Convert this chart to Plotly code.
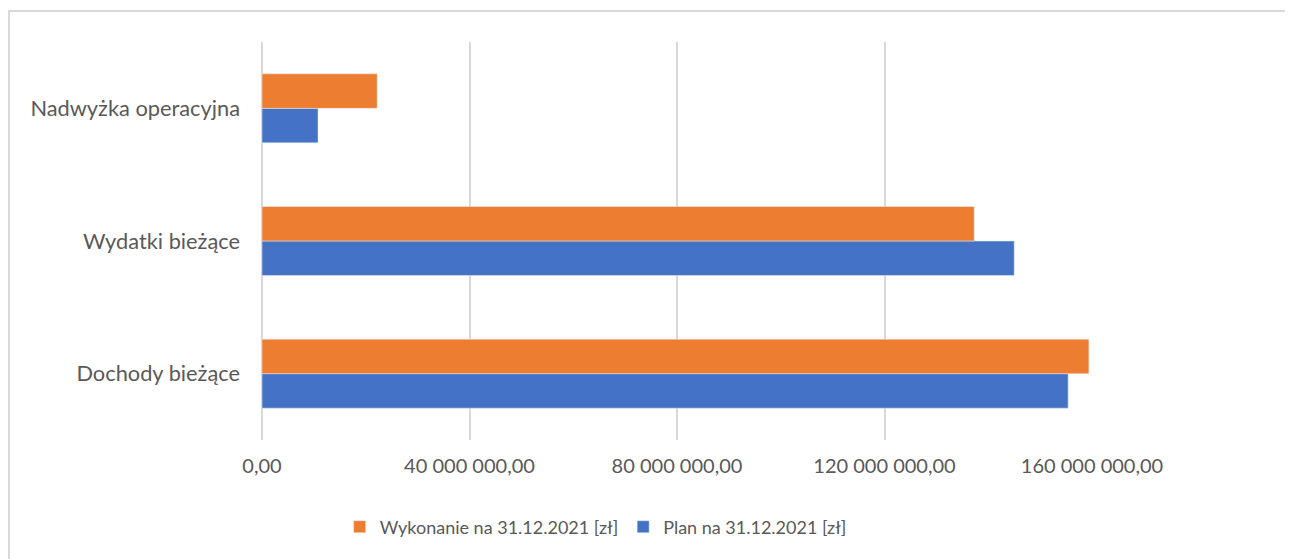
import plotly.graph_objects as go

# dane
categories = ["Dochody bieżące", "Wydatki bieżące", "Nadwyżka operacyjna"]
plan = [155_400_000, 145_000_000, 10_800_000]
wykonanie = [159_400_000, 137_300_000, 22_200_000]
tick_vals = [0, 40_000_000, 80_000_000, 120_000_000, 160_000_000]
tick_text = ["0,00", "40 000 000,00", "80 000 000,00", "120 000 000,00", "160 000 000,00"]

ORANGE = "#ED7D31"
BLUE = "#4472C4"
GREY_TXT = "#595959"
GRID = "#D9D9D9"
FONT = "Lato, Noto Sans, sans-serif"

fig = go.Figure()
fig.add_trace(go.Bar(
    y=categories, x=plan, orientation="h",
    name="Plan na 31.12.2021 [zł]", marker_color=BLUE,
))
fig.add_trace(go.Bar(
    y=categories, x=wykonanie, orientation="h",
    name="Wykonanie na 31.12.2021 [zł]", marker_color=ORANGE,
))

# strona ma 8px marginesu body, więc figura jest o 8px mniejsza
fig.update_layout(
    barmode="group",
    bargap=0.48,
    bargroupgap=0,
    width=1285, height=551,
    margin=dict(l=254, r=201, t=34, b=119),
    paper_bgcolor="white", plot_bgcolor="white",
    font=dict(family=FONT, size=20, color=GREY_TXT),
    showlegend=True,
    legend=dict(
        orientation="h", traceorder="reversed",
        x=0.402, xanchor="center", y=-0.2186, yanchor="middle",
        font=dict(size=18, color=GREY_TXT),
        itemwidth=30,
    ),
    shapes=[dict(
        type="rect", xref="paper", yref="paper",
        x0=-0.3048, x1=1.26, y0=-0.4, y1=1.0779,
        line=dict(color=GRID, width=2), fillcolor="rgba(0,0,0,0)",
        layer="below",
    )],
)
fig.update_xaxes(
    range=[0, 160_000_000],
    tickvals=tick_vals, ticktext=tick_text,
    showgrid=True, gridcolor=GRID, gridwidth=2,
    zeroline=True, zerolinecolor=GRID, zerolinewidth=2,
    showline=False,
    ticks="", ticklabelstandoff=12,
)
fig.update_yaxes(
    type="category",
    showgrid=False, zeroline=False, showline=False,
    tickfont=dict(size=21.8),
    ticks="", ticklabelstandoff=21,
)

fig.write_html("out.html")
